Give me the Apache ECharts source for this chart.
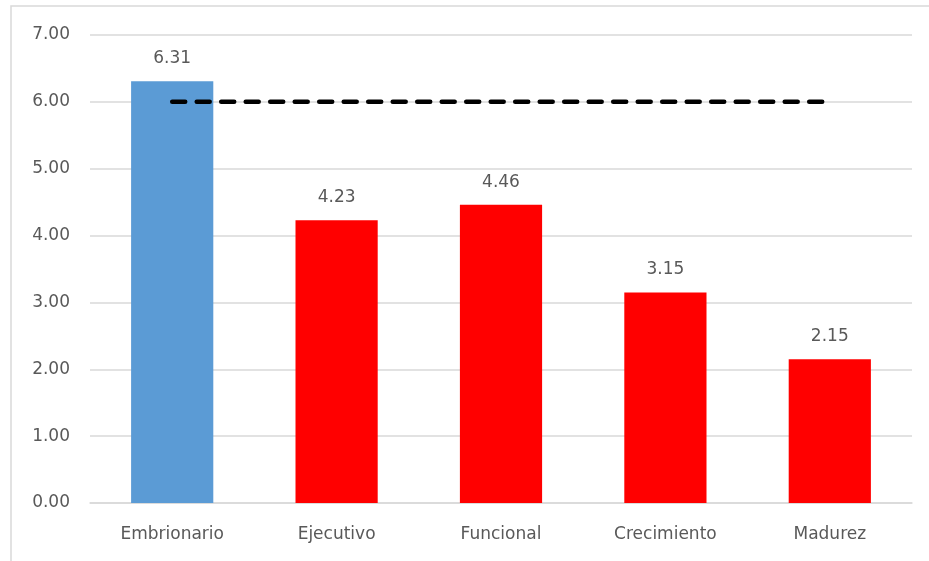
<!DOCTYPE html>
<html>
<head>
<meta charset="utf-8">
<script src="https://cdn.jsdelivr.net/npm/echarts@6/dist/echarts.min.js"></script>
<style>
  html, body { margin: 0; padding: 0; background: #fff; }
  #chart { width: 929px; height: 561px; }
</style>
</head>
<body>
<div id="chart"></div>
<script>
// datos del gráfico
const categories = ["Embrionario", "Ejecutivo", "Funcional", "Crecimiento", "Madurez"];
const values = [6.31, 4.23, 4.46, 3.15, 2.15];
const barColors = ["#5B9BD5", "#FF0000", "#FF0000", "#FF0000", "#FF0000"];
const referenceLine = [6, 6, 6, 6, 6];

const textColor = "#595959";
const fontFamily = "'DejaVu Sans', sans-serif";

const chart = echarts.init(document.getElementById("chart"));

const option = {
  animation: false,
  textStyle: { fontFamily: fontFamily },
  graphic: [{
    type: "rect",
    shape: { x: 11, y: 6, width: 940, height: 600 },
    style: { fill: "none", stroke: "#d9d9d9", lineWidth: 1.5 },
    silent: true
  }],
  grid: { left: 90, right: 17, top: 35, bottom: 58 },
  xAxis: {
    type: "category",
    data: categories,
    axisTick: { show: false },
    axisLine: { lineStyle: { color: "#d9d9d9", width: 1.5 } },
    axisLabel: { color: textColor, fontSize: 17, margin: 23, fontFamily: fontFamily }
  },
  yAxis: {
    type: "value",
    min: 0,
    max: 7,
    interval: 1,
    axisLine: { show: false },
    axisTick: { show: false },
    splitLine: { lineStyle: { color: "#d9d9d9", width: 1.5 } },
    axisLabel: {
      color: textColor, fontSize: 17, margin: 20, fontFamily: fontFamily,
      formatter: v => v.toFixed(2)
    }
  },
  series: [
    {
      type: "bar",
      barWidth: "50%",
      data: values.map((v, i) => ({ value: v, itemStyle: { color: barColors[i] } })),
      label: {
        show: true,
        position: "top",
        distance: 14,
        color: textColor,
        fontSize: 17,
        fontFamily: fontFamily,
        formatter: p => p.value.toFixed(2)
      }
    },
    {
      type: "line",
      data: referenceLine,
      symbol: "none",
      z: 5,
      lineStyle: { color: "#000", width: 4.5, type: [13, 11.5], cap: "round" }
    }
  ]
};

chart.setOption(option);
</script>
</body>
</html>
